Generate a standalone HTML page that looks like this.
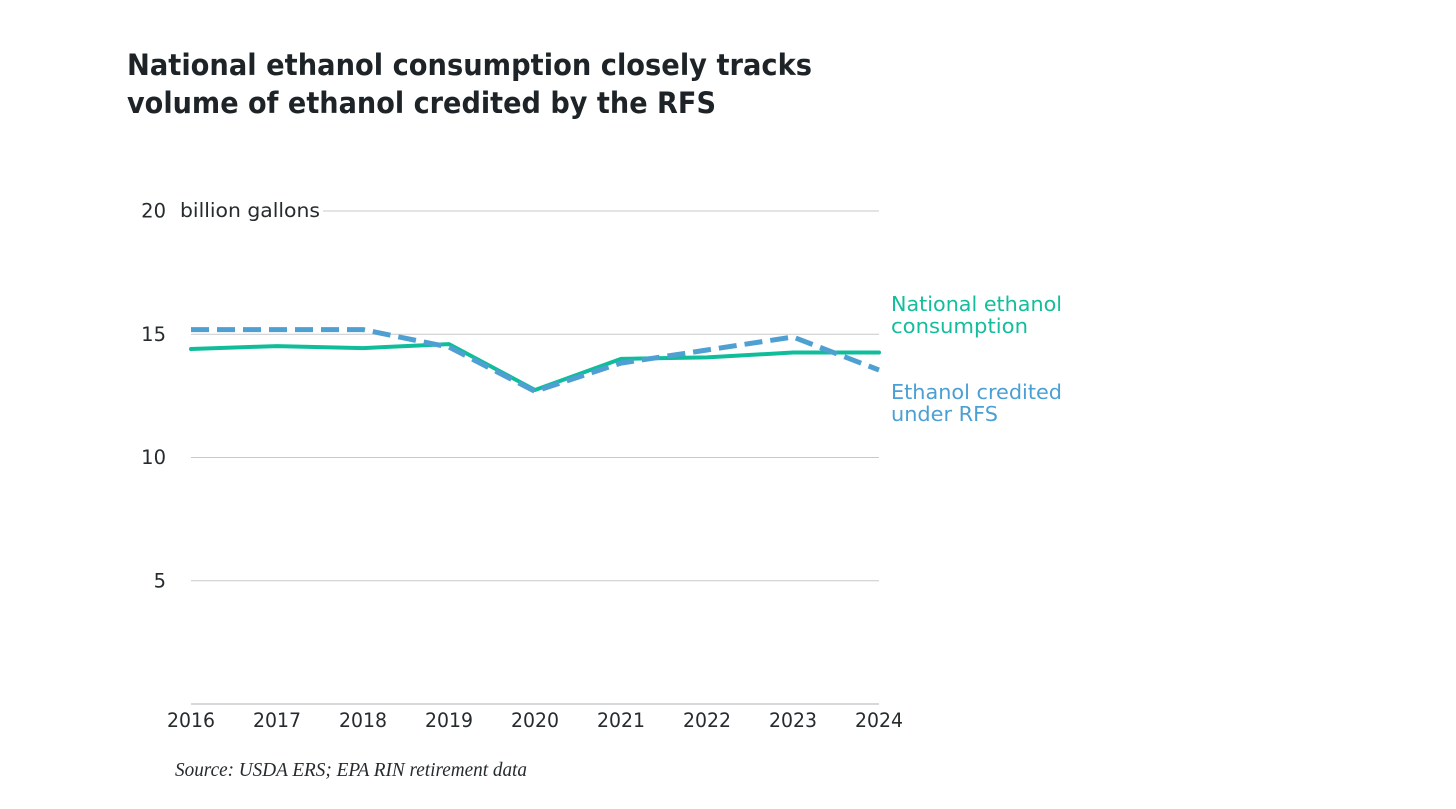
<!DOCTYPE html>
<html lang="en">
<head>
<meta charset="utf-8">
<title>National ethanol consumption</title>
<style>
html,body{margin:0;padding:0;background:#fff;width:1456px;height:809px;overflow:hidden}
svg{display:block;filter:blur(0.3px)}
text{font-family:"DejaVu Sans","Liberation Sans",sans-serif;fill:#262b2e}
</style>
</head>
<body>
<svg id="chart" xmlns="http://www.w3.org/2000/svg" width="1456" height="809" viewBox="0 0 1456 809">
  <rect x="0" y="0" width="1456" height="809" fill="#ffffff"/>
  <g font-weight="700" font-size="29.5">
    <text x="127" y="75" textLength="685" lengthAdjust="spacingAndGlyphs" style="fill:#1d2326">National ethanol consumption closely tracks</text>
    <text x="127" y="113" textLength="589" lengthAdjust="spacingAndGlyphs" style="fill:#1d2326">volume of ethanol credited by the RFS</text>
  </g>
  <g id="grid"></g>
  <g id="yticks"></g>
  <text x="180" y="217" font-size="19.5" textLength="140" lengthAdjust="spacingAndGlyphs">billion gallons</text>
  <g id="xticks"></g>
  <g id="series"></g>
  <g font-size="20.5">
    <text x="891" y="311" textLength="171" lengthAdjust="spacingAndGlyphs" style="fill:#14bd9c">National ethanol</text>
    <text x="891" y="333" textLength="137" lengthAdjust="spacingAndGlyphs" style="fill:#14bd9c">consumption</text>
  </g>
  <g font-size="20.5">
    <text x="891" y="399" textLength="171" lengthAdjust="spacingAndGlyphs" style="fill:#4a9fd4">Ethanol credited</text>
    <text x="891" y="421" textLength="107" lengthAdjust="spacingAndGlyphs" style="fill:#4a9fd4">under RFS</text>
  </g>
  <text x="175" y="776" font-size="20" font-style="italic" textLength="352" lengthAdjust="spacingAndGlyphs" style="font-family:'Liberation Serif',serif">Source: USDA ERS; EPA RIN retirement data</text>
</svg>
<script>
var years = [2016, 2017, 2018, 2019, 2020, 2021, 2022, 2023, 2024];
var consumption = [14.4, 14.52, 14.44, 14.6, 12.74, 14.0, 14.06, 14.26, 14.26];
var creditedRfs = [15.19, 15.19, 15.19, 14.48, 12.68, 13.83, 14.36, 14.89, 13.55];
var yTicks = [5, 10, 15, 20];
var yTickLabels = ["5", "10", "15", "20"];

var NS = 'http://www.w3.org/2000/svg';
function xScale(i) { return 191 + (879 - 191) * i / (years.length - 1); }
function yScale(v) { return 704 - v * (704 - 211) / 20; }
function linePoints(values) {
  return values.map(function (v, i) { return xScale(i).toFixed(1) + ',' + yScale(v).toFixed(1); }).join(' ');
}

var grid = document.getElementById('grid');
var yt = document.getElementById('yticks');
yTicks.forEach(function (t, i) {
  var line = document.createElementNS(NS, 'line');
  
  
  line.setAttribute('x1', t === 20 ? 323 : 191);
  line.setAttribute('x2', 879);
  line.setAttribute('y1', yScale(t));
  line.setAttribute('y2', yScale(t));
  line.setAttribute('stroke', '#c9c9cc');
  line.setAttribute('stroke-width', '1');
  grid.appendChild(line);
  var label = document.createElementNS(NS, 'text');
  
  
  label.setAttribute('x', 166);
  label.setAttribute('y', yScale(t) + 6.5);
  label.setAttribute('text-anchor', 'end');
  label.setAttribute('font-size', '19.5');
  label.textContent = yTickLabels[i];
  yt.appendChild(label);
});

var baseline = document.createElementNS(NS, 'line');


baseline.setAttribute('x1', 191);
baseline.setAttribute('x2', 879);
baseline.setAttribute('y1', yScale(0));
baseline.setAttribute('y2', yScale(0));
baseline.setAttribute('stroke', '#d2d2d4');
baseline.setAttribute('stroke-width', '1.8');
grid.appendChild(baseline);

var xt = document.getElementById('xticks');
years.forEach(function (y, i) {
  var label = document.createElementNS(NS, 'text');
  
  
  label.setAttribute('x', xScale(i));
  label.setAttribute('y', 727);
  label.setAttribute('text-anchor', 'middle');
  label.setAttribute('font-size', '19.5');
  label.setAttribute('textLength', '48');
  label.setAttribute('lengthAdjust', 'spacingAndGlyphs');
  label.textContent = y;
  xt.appendChild(label);
});

var series = document.getElementById('series');
var solid = document.createElementNS(NS, 'polyline');


solid.setAttribute('points', linePoints(consumption));
solid.setAttribute('fill', 'none');
solid.setAttribute('stroke', '#0fbd9b');
solid.setAttribute('stroke-width', '4');
solid.setAttribute('stroke-linecap', 'round');
solid.setAttribute('stroke-linejoin', 'round');
series.appendChild(solid);
var dashed = document.createElementNS(NS, 'polyline');


dashed.setAttribute('points', linePoints(creditedRfs));
dashed.setAttribute('fill', 'none');
dashed.setAttribute('stroke', '#4fa0d2');
dashed.setAttribute('stroke-width', '5');
dashed.setAttribute('stroke-dasharray', '18 8');
series.appendChild(dashed);
</script>
</body>
</html>
